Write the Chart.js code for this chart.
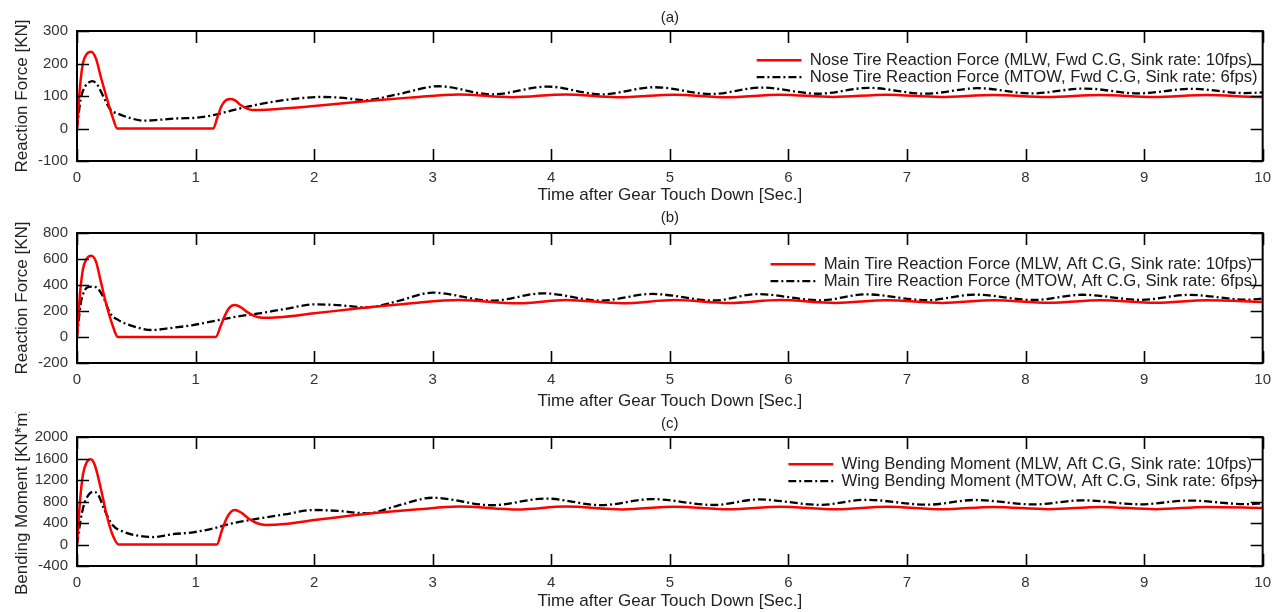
<!DOCTYPE html>
<html>
<head>
<meta charset="utf-8">
<script src="https://cdn.jsdelivr.net/npm/chart.js@4.4.1/dist/chart.umd.min.js"></script>
<style>
  html, body { margin: 0; padding: 0; background: #fff; }
  .panel { position: absolute; left: 0; width: 1279px; }
</style>
</head>
<body>
<div class="panel" style="top:0px"><canvas id="chartA" width="1279" height="206"></canvas></div>
<div class="panel" style="top:206px"><canvas id="chartB" width="1279" height="206"></canvas></div>
<div class="panel" style="top:412px"><canvas id="chartC" width="1279" height="200"></canvas></div>
<script>
// ---- values ----

// (a) nose tire reaction force [KN]
const noseMlwTime = [0, 0.025, 0.05, 0.08, 0.12, 0.16, 0.2, 0.25, 0.3, 0.34, 1.15, 1.18, 1.22, 1.26, 1.3, 1.34, 1.38, 1.43, 1.48, 1.6, 2.0, 2.5, 2.8, 3.22, 3.67, 4.12, 4.56, 5.04, 5.48, 5.93, 6.38, 6.83, 7.28, 7.73, 8.18, 8.63, 9.08, 9.53, 9.98, 10];
const noseMlwForce = [0, 128, 201, 228, 236, 215, 160, 95, 35, 0, 0, 30, 70, 88, 91, 85, 72, 62, 57, 58, 69, 86, 95, 105, 96, 105, 96, 104, 96, 104, 97, 104, 97, 103, 97, 103, 97, 103, 97, 97];
const noseMtowTime = [0, 0.03, 0.07, 0.1, 0.13, 0.17, 0.22, 0.28, 0.35, 0.45, 0.56, 0.7, 0.85, 1.0, 1.15, 1.3, 1.45, 1.65, 1.85, 2.05, 2.25, 2.42, 2.7, 3.05, 3.5, 3.97, 4.42, 4.87, 5.35, 5.77, 6.25, 6.68, 7.15, 7.6, 8.05, 8.5, 8.95, 9.4, 9.85, 10];
const noseMtowForce = [0, 88, 130, 142, 146, 135, 100, 59, 45, 32, 24, 27, 31, 33, 41, 55, 68, 82, 92, 97, 94, 87, 105, 130, 105, 129, 105, 127, 106, 126, 107, 125, 107, 124, 108, 123, 108, 122, 109, 111];

// (b) main tire reaction force [KN]
const mainMlwTime = [0, 0.025, 0.05, 0.08, 0.12, 0.16, 0.2, 0.25, 0.3, 0.345, 1.17, 1.21, 1.25, 1.29, 1.33, 1.38, 1.43, 1.5, 1.56, 1.7, 2.0, 2.38, 2.8, 3.22, 3.72, 4.12, 4.6, 5.04, 5.5, 5.93, 6.4, 6.83, 7.3, 7.73, 8.2, 8.63, 9.1, 9.53, 10];
const mainMlwForce = [0, 330, 520, 600, 625, 580, 430, 240, 90, 0, 0, 80, 170, 230, 246, 230, 195, 160, 148, 152, 182, 221, 258, 285, 259, 285, 260, 284, 261, 284, 262, 283, 262, 283, 263, 282, 263, 282, 270];
const mainMtowTime = [0, 0.03, 0.06, 0.1, 0.14, 0.18, 0.23, 0.28, 0.35, 0.45, 0.63, 0.8, 0.98, 1.2, 1.4, 1.54, 1.75, 2.01, 2.2, 2.45, 2.7, 3.0, 3.5, 3.93, 4.42, 4.85, 5.37, 5.74, 6.27, 6.65, 7.17, 7.57, 8.07, 8.48, 8.97, 9.38, 9.87, 10];
const mainMtowForce = [0, 250, 350, 385, 387, 370, 290, 182, 130, 90, 54, 70, 92, 131, 165, 182, 215, 251, 245, 228, 275, 341, 279, 336, 280, 331, 281, 330, 282, 328, 283, 326, 285, 325, 286, 324, 287, 295];

// (c) wing bending moment [KN*m]
const wingMlwTime = [0, 0.025, 0.05, 0.08, 0.115, 0.15, 0.2, 0.25, 0.3, 0.35, 1.18, 1.22, 1.26, 1.3, 1.33, 1.38, 1.45, 1.52, 1.59, 1.75, 2.0, 2.4, 2.88, 3.22, 3.72, 4.12, 4.6, 5.04, 5.5, 5.93, 6.4, 6.83, 7.3, 7.73, 8.2, 8.63, 9.1, 9.53, 10];
const wingMlwMoment = [0, 800, 1300, 1520, 1585, 1480, 1050, 550, 180, 0, 0, 250, 480, 610, 642, 600, 480, 395, 363, 380, 456, 560, 655, 705, 650, 705, 652, 703, 654, 702, 655, 701, 656, 700, 657, 700, 658, 700, 680];
const wingMtowTime = [0, 0.03, 0.06, 0.1, 0.14, 0.18, 0.23, 0.3, 0.4, 0.5, 0.64, 0.8, 0.98, 1.15, 1.31, 1.5, 1.75, 2.0, 2.2, 2.45, 2.7, 3.0, 3.5, 3.95, 4.42, 4.85, 5.37, 5.75, 6.27, 6.65, 7.17, 7.57, 8.07, 8.48, 8.97, 9.38, 9.87, 10];
const wingMtowMoment = [0, 450, 750, 930, 982, 920, 650, 363, 230, 170, 139, 190, 227, 300, 394, 470, 560, 642, 625, 580, 720, 870, 730, 855, 732, 845, 735, 838, 738, 832, 740, 828, 745, 822, 748, 818, 750, 765];

// axis ranges / ticks: [min, max, step]
const timeRange = [0, 10, 1];
const noseRange = [-100, 300, 100];
const mainRange = [-200, 800, 200];
const wingRange = [-400, 2000, 400];

const FONT = 'Arial, "Liberation Sans", sans-serif';
const LEGEND_SIZE = 16.7;
const LEGEND_LINE = 45;

function toPoints(times, values) {
    return times.map((t, i) => ({ x: t, y: values[i] }));
}

// MATLAB-like box with ticks pointing inwards on all four sides
const frameTicks = {
    id: 'frameTicks',
    afterDatasetsDraw(chart) {
        const { ctx, chartArea: a, scales: { x, y } } = chart;
        const len = 12;
        ctx.save();
        ctx.strokeStyle = '#000';
        ctx.lineWidth = 1.6;
        ctx.beginPath();
        x.ticks.forEach(t => {
            const px = Math.round(x.getPixelForValue(t.value)) + 0.5;
            ctx.moveTo(px, a.bottom); ctx.lineTo(px, a.bottom - len);
            ctx.moveTo(px, a.top); ctx.lineTo(px, a.top + len);
        });
        y.ticks.forEach(t => {
            const py = Math.round(y.getPixelForValue(t.value)) + 0.5;
            ctx.moveTo(a.left, py); ctx.lineTo(a.left + len, py);
            ctx.moveTo(a.right, py); ctx.lineTo(a.right - len, py);
        });
        ctx.stroke();
        ctx.lineWidth = 2;
        ctx.strokeRect(a.left, a.top, a.right - a.left, a.bottom - a.top);
        ctx.restore();
    }
};

// move the legend into the top right corner of the plot area
const insideLegend = {
    id: 'insideLegend',
    afterLayout(chart, args, opts) {
        const lg = chart.legend;
        if (!lg) return;
        const a = chart.chartArea;
        const ctx = chart.ctx;
        ctx.save();
        ctx.font = LEGEND_SIZE + 'px ' + FONT;
        const maxW = Math.max(...chart.data.datasets.map(d => ctx.measureText(d.label).width));
        ctx.restore();
        lg.left = a.right - 5 - maxW - LEGEND_SIZE / 2 - LEGEND_LINE;
        lg.right = a.right;
        lg.width = lg.right - lg.left;
        lg.top = a.top + (opts.offsetY || 20);
        lg.bottom = a.bottom;
        lg.height = lg.bottom - lg.top;
    }
};

// legend samples should show the dataset's own line style
function lineLabels(chart) {
    const items = Chart.defaults.plugins.legend.labels.generateLabels(chart);
    items.forEach(item => {
        const ds = chart.data.datasets[item.datasetIndex];
        item.lineDash = ds.borderDash || [];
        item.lineWidth = ds.borderWidth;
        item.strokeStyle = ds.borderColor;
    });
    return items;
}

function makePanel(canvasId, p) {
    const ctx = document.getElementById(canvasId).getContext('2d');
    return new Chart(ctx, {
        type: 'line',
        data: {
            datasets: [{
                label: p.labels[0],
                data: toPoints(p.redTime, p.redValues),
                borderColor: '#ff0000',
                borderWidth: 2.5,
                pointRadius: 0,
                cubicInterpolationMode: 'monotone',
                fill: false
            }, {
                label: p.labels[1],
                data: toPoints(p.blackTime, p.blackValues),
                borderColor: '#000000',
                borderWidth: 2.3,
                borderDash: [8, 3, 2, 3],
                pointRadius: 0,
                cubicInterpolationMode: 'monotone',
                fill: false
            }]
        },
        options: {
            responsive: false,
            animation: false,
            layout: { padding: { left: 0, right: 11, top: 0, bottom: 0 } },
            plugins: {
                title: {
                    display: true,
                    text: p.title,
                    fullSize: false,
                    color: '#222',
                    font: { family: FONT, size: 15, weight: 'normal' },
                    padding: p.titlePad
                },
                legend: {
                    display: true,
                    position: 'chartArea',
                    fullSize: false,
                    align: 'start',
                    labels: {
                        color: '#222',
                        font: { family: FONT, size: LEGEND_SIZE },
                        usePointStyle: true,
                        pointStyle: 'line',
                        pointStyleWidth: LEGEND_LINE,
                        padding: 0,
                        generateLabels: lineLabels
                    }
                },
                insideLegend: { offsetY: p.legendY },
                tooltip: { enabled: false }
            },
            scales: {
                x: {
                    type: 'linear',
                    min: timeRange[0],
                    max: timeRange[1],
                    grid: { display: false, drawTicks: false },
                    border: { display: false },
                    ticks: {
                        stepSize: timeRange[2],
                        color: '#333',
                        padding: 8,
                        maxRotation: 0,
                        font: { family: FONT, size: 15 },
                        callback: v => String(v)
                    },
                    title: {
                        display: true,
                        text: 'Time after Gear Touch Down [Sec.]',
                        color: '#222',
                        font: { family: FONT, size: 17 },
                        padding: { top: 0, bottom: 0 }
                    },
                    afterFit(scale) { scale.height = p.xHeight; }
                },
                y: {
                    min: p.range[0],
                    max: p.range[1],
                    grid: { display: false, drawTicks: false },
                    border: { display: false },
                    ticks: {
                        stepSize: p.range[2],
                        color: '#333',
                        padding: 9,
                        font: { family: FONT, size: 15 },
                        callback: v => String(v)
                    },
                    title: {
                        display: true,
                        text: p.yLabel,
                        color: '#222',
                        font: { family: FONT, size: 17 },
                        padding: { top: 12, bottom: 0 }
                    },
                    afterFit(scale) { scale.width = 77; }
                }
            }
        },
        plugins: [frameTicks, insideLegend]
    });
}

makePanel('chartA', {
    title: '(a)',
    titlePad: { top: 9, bottom: 4 },
    yLabel: 'Reaction Force [KN]',
    range: noseRange,
    xHeight: 45,
    legendY: 21,
    labels: ['Nose Tire Reaction Force (MLW, Fwd C.G, Sink rate: 10fps)',
             'Nose Tire Reaction Force (MTOW, Fwd C.G, Sink rate: 6fps)'],
    redTime: noseMlwTime, redValues: noseMlwForce,
    blackTime: noseMtowTime, blackValues: noseMtowForce
});

makePanel('chartB', {
    title: '(b)',
    titlePad: { top: 3, bottom: 6 },
    yLabel: 'Reaction Force [KN]',
    range: mainRange,
    xHeight: 49,
    legendY: 23,
    labels: ['Main Tire Reaction Force (MLW, Aft C.G, Sink rate: 10fps)',
             'Main Tire Reaction Force (MTOW, Aft C.G, Sink rate: 6fps)'],
    redTime: mainMlwTime, redValues: mainMlwForce,
    blackTime: mainMtowTime, blackValues: mainMtowForce
});

makePanel('chartC', {
    title: '(c)',
    titlePad: { top: 3, bottom: 4 },
    yLabel: 'Bending Moment [KN*m]',
    range: wingRange,
    xHeight: 46,
    legendY: 19,
    labels: ['Wing Bending Moment (MLW, Aft C.G, Sink rate: 10fps)',
             'Wing Bending Moment (MTOW, Aft C.G, Sink rate: 6fps)'],
    redTime: wingMlwTime, redValues: wingMlwMoment,
    blackTime: wingMtowTime, blackValues: wingMtowMoment
});
</script>
</body>
</html>
